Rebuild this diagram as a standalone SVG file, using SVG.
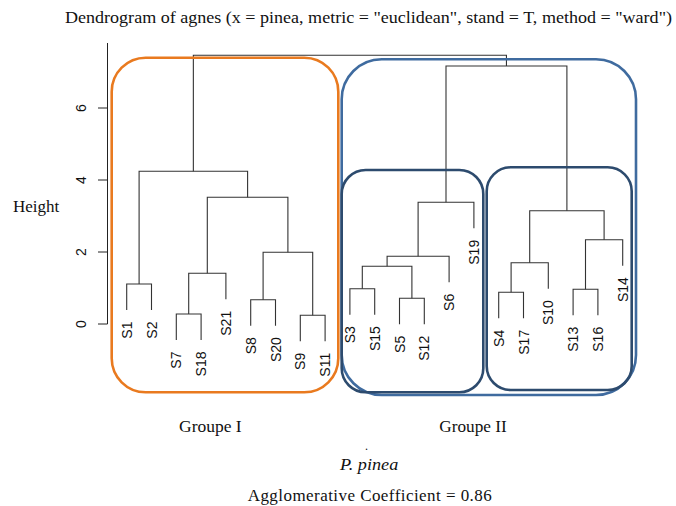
<svg xmlns="http://www.w3.org/2000/svg" width="676" height="506" viewBox="0 0 676 506">
<style>
.serif{font-family:"Liberation Serif","Times New Roman",serif;fill:#111}
.lab{font-family:"Liberation Sans",Arial,sans-serif;font-size:14px;fill:#111;text-anchor:end}
.tick{font-family:"Liberation Sans",Arial,sans-serif;font-size:14px;fill:#111;text-anchor:middle}
.br{fill:none;stroke:#333;stroke-width:1.1}
.ax{fill:none;stroke:#222;stroke-width:1}
.box{fill:none;stroke-width:2.6}
</style>
<rect width="676" height="506" fill="#fff"/>
<text class="serif" x="65" y="23" font-size="17" textLength="607" lengthAdjust="spacingAndGlyphs">Dendrogram of agnes (x = pinea, metric = "euclidean", stand = T, method = "ward")</text>
<g id="axis">
<path class="ax" d="M107.5 43V324M98 324H107.5M98 252H107.5M98 180H107.5M98 108H107.5"/>
<text class="tick" transform="translate(86 324) rotate(-90)">0</text>
<text class="tick" transform="translate(86 252) rotate(-90)">2</text>
<text class="tick" transform="translate(86 180) rotate(-90)">4</text>
<text class="tick" transform="translate(86 108) rotate(-90)">6</text>
<text class="serif" x="13" y="212" font-size="17">Height</text>
</g>
<g id="connectors">
<path class="br" d="M126.7 310V284H151.5V310"/>
<path class="br" d="M176.3 340V314H201.1V340"/>
<path class="br" d="M188.7 314V273.3H225.9V299.3"/>
<path class="br" d="M250.7 325.7V299.7H275.5V325.7"/>
<path class="br" d="M300.3 341.3V315.3H325.1V341.3"/>
<path class="br" d="M263.1 299.7V252.3H312.7V315.3"/>
<path class="br" d="M207.3 273.3V197.3H287.9V252.3"/>
<path class="br" d="M139.1 284V171.3H247.6V197.3"/>
<path class="br" d="M349.9 314.7V288.7H374.7V314.7"/>
<path class="br" d="M399.5 324.3V298.3H424.3V324.3"/>
<path class="br" d="M362.3 288.7V266.3H411.9V298.3"/>
<path class="br" d="M387.1 266.3V256.3H449.1V282.3"/>
<path class="br" d="M418.1 256.3V202.3H473.9V228.3"/>
<path class="br" d="M498.7 318.3V292.3H523.5V318.3"/>
<path class="br" d="M511.1 292.3V262.7H548.3V288.7"/>
<path class="br" d="M573.1 315.3V289.3H597.9V315.3"/>
<path class="br" d="M585.5 289.3V239.7H622.7V265.7"/>
<path class="br" d="M529.7 262.7V210.7H604.1V239.7"/>
<path class="br" d="M446 202.3V66H566.9V210.7"/>
<path class="br" d="M193.35 171.3V55.3H506.45V66"/>
</g>
<g id="leaves">
<g id="S1"><text class="lab" transform="translate(131.7 321.5) rotate(-90)">S1</text></g>
<g id="S2"><text class="lab" transform="translate(156.5 321.5) rotate(-90)">S2</text></g>
<g id="S7"><text class="lab" transform="translate(181.3 351.5) rotate(-90)">S7</text></g>
<g id="S18"><text class="lab" transform="translate(206.1 351.5) rotate(-90)">S18</text></g>
<g id="S21"><text class="lab" transform="translate(230.9 310.8) rotate(-90)">S21</text></g>
<g id="S8"><text class="lab" transform="translate(255.7 337.2) rotate(-90)">S8</text></g>
<g id="S20"><text class="lab" transform="translate(280.5 337.2) rotate(-90)">S20</text></g>
<g id="S9"><text class="lab" transform="translate(305.3 352.8) rotate(-90)">S9</text></g>
<g id="S11"><text class="lab" transform="translate(330.1 352.8) rotate(-90)">S11</text></g>
<g id="S3"><text class="lab" transform="translate(354.9 326.2) rotate(-90)">S3</text></g>
<g id="S15"><text class="lab" transform="translate(379.7 326.2) rotate(-90)">S15</text></g>
<g id="S5"><text class="lab" transform="translate(404.5 335.8) rotate(-90)">S5</text></g>
<g id="S12"><text class="lab" transform="translate(429.3 335.8) rotate(-90)">S12</text></g>
<g id="S6"><text class="lab" transform="translate(454.1 293.8) rotate(-90)">S6</text></g>
<g id="S19"><text class="lab" transform="translate(478.9 239.8) rotate(-90)">S19</text></g>
<g id="S4"><text class="lab" transform="translate(503.7 329.8) rotate(-90)">S4</text></g>
<g id="S17"><text class="lab" transform="translate(528.5 329.8) rotate(-90)">S17</text></g>
<g id="S10"><text class="lab" transform="translate(553.3 300.2) rotate(-90)">S10</text></g>
<g id="S13"><text class="lab" transform="translate(578.1 326.8) rotate(-90)">S13</text></g>
<g id="S16"><text class="lab" transform="translate(602.9 326.8) rotate(-90)">S16</text></g>
<g id="S14"><text class="lab" transform="translate(627.7 277.2) rotate(-90)">S14</text></g>
</g>
<g id="groupe-I"><rect class="box" x="111.7" y="57.7" width="226.6" height="334.6" rx="34" stroke="#E97A1F"/></g>
<g id="groupe-II"><rect class="box" x="341.7" y="59.3" width="294.3" height="335.7" rx="40" stroke="#3F6B9F"/></g>
<g id="groupe-IIa"><rect class="box" x="341.7" y="170" width="141.6" height="222.3" rx="24" stroke="#2D4B6E"/></g>
<g id="groupe-IIb"><rect class="box" x="486.7" y="167.3" width="145" height="222.7" rx="24" stroke="#2D4B6E"/></g>
<text class="serif" x="179" y="432" font-size="17" textLength="62.7" lengthAdjust="spacingAndGlyphs">Groupe I</text>
<text class="serif" x="439.3" y="432" font-size="17" textLength="67.4" lengthAdjust="spacingAndGlyphs">Groupe II</text>
<text class="serif" x="365" y="450" font-size="12">.</text>
<text class="serif" x="340" y="470" font-size="17" font-style="italic" textLength="58.3" lengthAdjust="spacingAndGlyphs">P. pinea</text>
<text class="serif" x="247.7" y="500.5" font-size="17" textLength="244" lengthAdjust="spacing">Agglomerative Coefficient = 0.86</text>
</svg>
